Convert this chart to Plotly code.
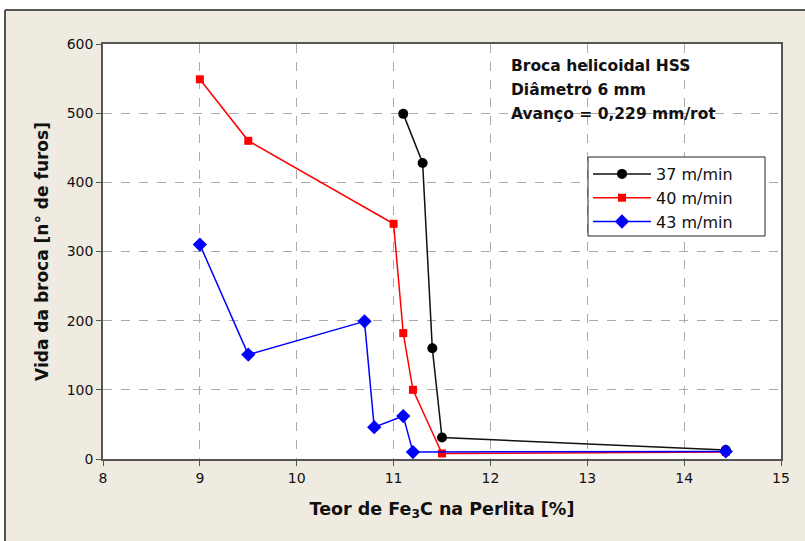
import plotly.graph_objects as go

# Data
x_37 = [11.1, 11.3, 11.4, 11.5, 14.43]
y_37 = [499, 428, 160, 31, 13]

x_40 = [9.0, 9.5, 11.0, 11.1, 11.2, 11.5, 14.43]
y_40 = [549, 460, 340, 182, 100, 8, 10]

x_43 = [9.0, 9.5, 10.7, 10.8, 11.1, 11.2, 14.43]
y_43 = [310, 151, 199, 46, 62, 10, 11]

series_names = ["37 m/min", "40 m/min", "43 m/min"]
x_ticks = [8, 9, 10, 11, 12, 13, 14, 15]
y_ticks = [0, 100, 200, 300, 400, 500, 600]
info_lines = ["Broca helicoidal HSS", "Diâmetro 6 mm", "Avanço = 0,229 mm/rot"]

FONT = "DejaVu Sans"
BEIGE = "#F0EBE1"

fig = go.Figure()
fig.add_trace(go.Scatter(x=x_37, y=y_37, name=series_names[0], mode="lines+markers",
                         legendgroup="a",
                         line=dict(color="#111111", width=1.5),
                         marker=dict(symbol="circle", size=10, color="#000000")))
fig.add_trace(go.Scatter(x=x_40, y=y_40, name=series_names[1], mode="lines+markers",
                         legendgroup="b",
                         line=dict(color="#FF0000", width=1.5),
                         marker=dict(symbol="square", size=8, color="#FF0000")))
fig.add_trace(go.Scatter(x=x_43, y=y_43, name=series_names[2], mode="lines+markers",
                         legendgroup="c",
                         line=dict(color="#0000FF", width=1.5),
                         marker=dict(symbol="diamond", size=11, color="#0000FF")))

L, R, T, B = 103, 24, 44, 82
W, H = 805, 541
pw, ph = W - L - R, H - T - B


def px(xp):
    return (xp - L) / pw


def py(yp):
    return (H - B - yp) / ph


shapes = [
    # white strip at the top
    dict(type="rect", xref="paper", yref="paper", x0=px(-10), x1=px(W + 10), y0=py(10), y1=py(-10),
         fillcolor="white", line=dict(width=0), layer="below"),
    dict(type="rect", xref="paper", yref="paper", x0=px(-10), x1=px(5), y0=py(W), y1=py(-10),
         fillcolor="white", line=dict(width=0), layer="below"),
    # panel border lines (left and top)
    dict(type="line", xref="paper", yref="paper", x0=px(5), x1=px(5), y0=py(10), y1=py(W),
         line=dict(color="#555555", width=2)),
    dict(type="line", xref="paper", yref="paper", x0=px(5), x1=px(W + 10), y0=py(10), y1=py(10),
         line=dict(color="#555555", width=2)),
    # legend box
    dict(type="rect", xref="paper", yref="paper", x0=px(588), x1=px(765), y0=py(236), y1=py(157),
         fillcolor="white", line=dict(color="#222222", width=1), layer="above"),
]

annotations = []
for i, t in enumerate(info_lines):
    annotations.append(dict(xref="paper", yref="paper", x=px(509), y=py(66 + 24 * i),
                            xanchor="left", yanchor="middle", showarrow=False,
                            text="<b>" + t + "</b>",
                            font=dict(family=FONT, size=15.5, color="#111111")))

fig.update_layout(
    width=W, height=H,
    margin=dict(l=L, r=R, t=T, b=B),
    paper_bgcolor=BEIGE,
    plot_bgcolor="white",
    font=dict(family=FONT, size=14, color="#111111"),
    shapes=shapes,
    annotations=annotations,
    showlegend=True,
    legend=dict(x=px(588), y=py(157), xanchor="left", yanchor="top",
                bgcolor="rgba(0,0,0,0)", borderwidth=0,
                font=dict(family=FONT, size=16, color="#111111"),
                tracegroupgap=0, itemwidth=58),
    xaxis=dict(range=[8, 15], tickvals=x_ticks, ticktext=[str(v) for v in x_ticks],
               showgrid=True, gridcolor="#AAAAAA", griddash="dash", gridwidth=1,
               showline=True, linecolor="#555555", linewidth=1.5, mirror=True,
               ticks="outside", ticklen=5, tickcolor="#555555", zeroline=False,
               title=dict(text="<b>Teor de Fe<sub>3</sub>C na Perlita [%]</b>",
                          font=dict(family=FONT, size=17.5), standoff=18)),
    yaxis=dict(range=[0, 600], tickvals=y_ticks, ticktext=[str(v) for v in y_ticks],
               showgrid=True, gridcolor="#AAAAAA", griddash="dash", gridwidth=1,
               showline=True, linecolor="#555555", linewidth=1.5, mirror=True,
               ticks="outside", ticklen=5, tickcolor="#555555", zeroline=False,
               title=dict(text="<b>Vida da broca [n° de furos]</b>",
                          font=dict(family=FONT, size=17), standoff=14)),
)

fig.write_html("out.html", config={"displayModeBar": False},
               post_script="document.body.style.margin='0px';")
